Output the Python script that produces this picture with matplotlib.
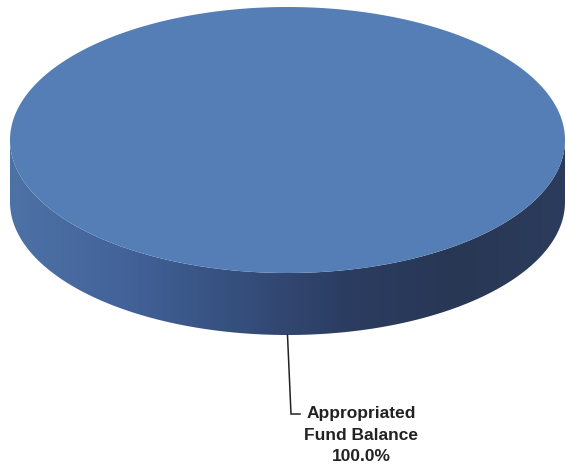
import matplotlib
matplotlib.use("Agg")
import matplotlib.pyplot as plt
import numpy as np
from matplotlib.patches import Polygon
from matplotlib.colors import LinearSegmentedColormap

# chart data
labels = ["Appropriated\nFund Balance"]
values = [100.0]
top_colors = ["#547eb5"]

# 3d pie geometry (pixel space)
cx, cy = 287.5, 140.0
rx, ry = 277.5, 133.0
depth = 62.0

fig = plt.figure(figsize=(5.66, 4.68), dpi=100)
ax = fig.add_axes([0, 0, 1, 1])
ax.set_xlim(0, 566)
ax.set_ylim(468, 0)
ax.axis("off")

total = sum(values)
fracs = np.array(values) / total
starts = np.concatenate([[0], np.cumsum(fracs)[:-1]]) * 2 * np.pi

# side wall (front half of the ellipse) with a left-to-right shading
t = np.linspace(0, np.pi, 300)
upper = np.column_stack([cx + rx * np.cos(t), cy + ry * np.sin(t)])
lower = upper[::-1] + [0, depth]
side = Polygon(np.vstack([upper, lower]), closed=True, facecolor="none", edgecolor="none")
ax.add_patch(side)
side_cmap = LinearSegmentedColormap.from_list(
    "side", ["#4d72a6", "#43639a", "#36507e", "#2c3d62", "#283754", "#2c3c5c"])
grad = np.linspace(0, 1, 256).reshape(1, -1)
img = ax.imshow(grad, cmap=side_cmap, aspect="auto",
                extent=[cx - rx, cx + rx, cy + ry + depth, cy - ry], zorder=1)
img.set_clip_path(side)

# top face, one wedge per value
for start, frac, col in zip(starts, fracs, top_colors):
    a = np.linspace(start, start + frac * 2 * np.pi, 400)
    pts = np.column_stack([cx + rx * np.cos(a), cy + ry * np.sin(a)])
    if frac < 1:
        pts = np.vstack([[cx, cy], pts])
    ax.add_patch(Polygon(pts, closed=True, facecolor=col, edgecolor="none", zorder=2))

# leader line and label
for lab, v in zip(labels, values):
    ax.plot([287.5, 291, 300], [cy + ry + depth, 414, 414], color="#222222", lw=1.1,
            solid_joinstyle="miter", zorder=3)
    ax.text(361, 435, f"{lab}\n{v / total * 100:.1f}%", ha="center", va="center",
            fontsize=12.5, fontweight="bold", family="Liberation Sans", color="#222222",
            linespacing=1.55)

fig.savefig("out.png", dpi=100)
